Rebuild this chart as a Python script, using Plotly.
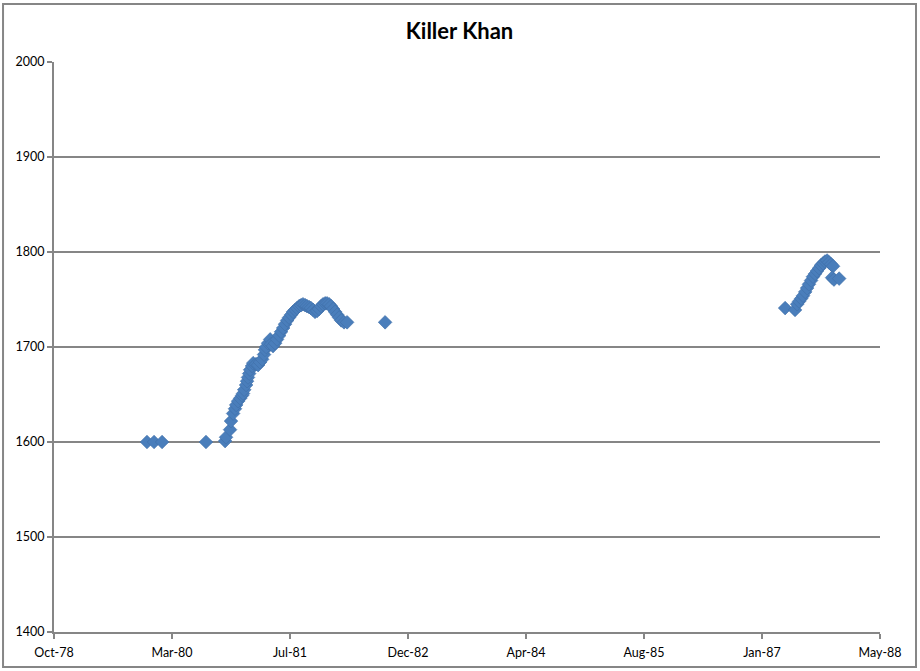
import plotly.graph_objects as go

# Data
dates = [
    "1979-11-25", "1979-12-25", "1980-01-28", "1980-08-01",
    "1980-10-21", "1980-10-25", "1980-11-11", "1980-11-15", "1980-11-24",
    "1980-12-02", "1980-12-07", "1980-12-15", "1980-12-24",
    "1981-01-01", "1981-01-05", "1981-01-10", "1981-01-18", "1981-01-22",
    "1981-01-26", "1981-01-31", "1981-02-04", "1981-02-12", "1981-02-17",
    "1981-03-01", "1981-03-10", "1981-03-18", "1981-03-27", "1981-04-04",
    "1981-04-08", "1981-04-13", "1981-04-21", "1981-04-30", "1981-05-04",
    "1981-05-12", "1981-05-21", "1981-05-29", "1981-06-07", "1981-06-15",
    "1981-06-24", "1981-07-02", "1981-07-11", "1981-07-19", "1981-07-28",
    "1981-08-05", "1981-08-14", "1981-08-22", "1981-08-31", "1981-09-08",
    "1981-09-16", "1981-09-25", "1981-10-03", "1981-10-12", "1981-10-20",
    "1981-10-29", "1981-11-06", "1981-11-15", "1981-11-23", "1981-12-02",
    "1981-12-10", "1981-12-19", "1981-12-27",
    "1982-01-05", "1982-01-13", "1982-01-22", "1982-01-30", "1982-02-08",
    "1982-02-16", "1982-02-25", "1982-03-09", "1982-03-22", "1982-08-30",
    "1987-04-21", "1987-06-02", "1987-06-11", "1987-06-19", "1987-06-28",
    "1987-07-06", "1987-07-15", "1987-07-23", "1987-07-31", "1987-08-09",
    "1987-08-17", "1987-08-26", "1987-09-03", "1987-09-12", "1987-09-20",
    "1987-09-29", "1987-10-07", "1987-10-16", "1987-10-24", "1987-11-02",
    "1987-11-10", "1987-11-06", "1987-11-14", "1987-12-06",
]
ratings = [
    1600, 1600, 1600, 1600,
    1601, 1605, 1613, 1622, 1630,
    1635, 1639, 1643, 1646,
    1649, 1651, 1655, 1660, 1664,
    1668, 1672, 1676, 1680, 1683,
    1682, 1681, 1684, 1687, 1692,
    1697, 1700, 1704, 1708, 1703,
    1701, 1704, 1708, 1712, 1716,
    1720, 1724, 1728, 1731, 1734,
    1737, 1739, 1741, 1743, 1744,
    1745, 1744, 1743, 1742, 1741,
    1739, 1737, 1738, 1740, 1743,
    1745, 1746, 1746,
    1745, 1743, 1740, 1737, 1734,
    1731, 1728, 1726, 1726, 1726,
    1741, 1739, 1745, 1748, 1751,
    1754, 1758, 1762, 1766, 1770,
    1774, 1777, 1780, 1783, 1786,
    1788, 1790, 1791, 1789, 1787,
    1785, 1773, 1771, 1772,
]

title_text = "Killer Khan"
x_range = ["1978-10-27", "1988-05-27"]
x_tick0 = "1978-10-27"
x_dtick_days = 500
y_range = [1400, 2000]
y_dtick = 100

FONT = "Lato, 'Open Sans', sans-serif"
GRID = "#868686"

fig = go.Figure()
fig.add_trace(go.Scatter(
    x=dates, y=ratings, mode="markers",
    marker=dict(symbol="diamond", size=10.5, color="#4A7EBB",
                line=dict(width=0.6, color="#3F6FA8")),
    showlegend=False, hoverinfo="x+y",
))

fig.update_layout(
    width=920, height=671,
    margin=dict(l=54, r=40, t=62, b=39),
    paper_bgcolor="white", plot_bgcolor="white",
    font=dict(family=FONT, size=12.5, color="#000000"),
    title=dict(text="<b>" + title_text + "</b>", x=459.5 / 920, xref="container",
               y=1 - 31 / 671, yref="container", xanchor="center", yanchor="middle",
               font=dict(family=FONT, size=22, color="#000000")),
    xaxis=dict(
        type="date", range=x_range, tickmode="linear", tick0=x_tick0,
        dtick=x_dtick_days * 86400000, tickformat="%b-%y",
        showgrid=False, showline=True, linecolor=GRID, linewidth=2,
        ticks="outside", ticklen=5, tickcolor=GRID, tickwidth=1.5,
        zeroline=False, tickfont=dict(size=12.5), ticklabelstandoff=3,
    ),
    yaxis=dict(
        range=y_range, tickmode="linear", tick0=1400, dtick=y_dtick,
        showgrid=True, gridcolor=GRID, gridwidth=1.5,
        showline=True, linecolor=GRID, linewidth=2,
        ticks="outside", ticklen=5, tickcolor=GRID, tickwidth=1.5,
        zeroline=False, tickfont=dict(size=12.5),
    ),
    shapes=[dict(type="rect", xref="paper", yref="paper",
                 x0=-0.0617, x1=1.0436, y0=-0.0614, y1=1.1018,
                 line=dict(color="#868686", width=2), layer="below")],
)

fig.write_html("out.html", config={"displayModeBar": False},
               post_script="document.body.style.margin='0px';")
